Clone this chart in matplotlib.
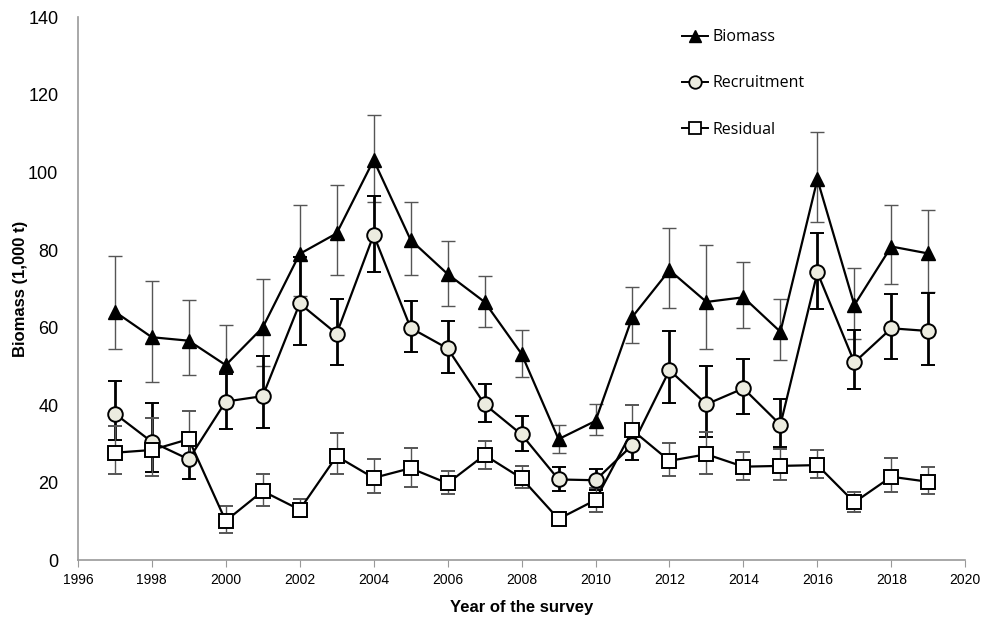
import numpy as np
import matplotlib
matplotlib.use("Agg")
from matplotlib import pyplot as plt
from matplotlib.lines import Line2D

#_____________________________DATA_______________________________________#
years = list(range(1997, 2020))

# Biomass (1,000 t): estimate, lower and upper limit of the error bar
biomass = [64.1, 57.5, 56.6, 50.3, 60.0, 79.0, 84.3, 103.2, 82.6, 73.8, 66.6, 53.2,
           31.2, 35.9, 62.8, 74.8, 66.6, 67.8, 58.9, 98.2, 65.8, 80.9, 79.1]
biomass_lo = [54.4, 46.0, 47.7, 40.0, 50.1, 68.2, 73.6, 92.5, 73.6, 65.6, 60.2, 47.3,
              27.7, 32.3, 55.9, 65.0, 54.5, 59.9, 51.6, 87.3, 57.0, 71.2, 69.1]
biomass_hi = [78.5, 72.1, 67.1, 60.6, 72.4, 91.6, 96.7, 114.8, 92.5, 82.3, 73.4, 59.4,
              34.9, 40.3, 70.4, 85.8, 81.3, 77.0, 67.4, 110.5, 75.3, 91.5, 90.3]

recruit = [37.8, 30.5, 26.0, 40.9, 42.3, 66.2, 58.4, 83.9, 59.9, 54.6, 40.2, 32.4,
           20.8, 20.6, 29.7, 49.0, 40.2, 44.3, 34.9, 74.2, 51.0, 59.8, 59.1]
recruit_lo = [31.0, 22.8, 20.9, 33.7, 34.0, 55.6, 50.3, 74.4, 53.6, 48.3, 35.5, 28.1,
              17.9, 18.2, 25.8, 40.4, 31.8, 37.6, 29.2, 64.8, 44.1, 51.9, 50.3]
recruit_hi = [46.2, 40.5, 32.0, 48.0, 52.6, 78.3, 67.3, 94.0, 66.9, 61.7, 45.4, 37.2,
              24.1, 23.4, 33.0, 59.1, 50.1, 52.0, 41.6, 84.5, 59.4, 68.6, 69.0]

residual = [27.7, 28.4, 31.2, 10.1, 17.8, 13.0, 26.8, 21.2, 23.7, 19.8, 27.1, 21.1,
            10.6, 15.5, 33.5, 25.6, 27.3, 24.1, 24.3, 24.5, 14.9, 21.5, 20.2]
residual_lo = [22.2, 21.7, 25.2, 7.1, 14.0, 11.0, 22.2, 17.4, 18.9, 17.0, 23.5, 18.5,
               9.6, 12.5, 28.5, 21.8, 22.2, 20.6, 20.6, 21.1, 12.3, 17.5, 17.0]
residual_hi = [34.7, 36.6, 38.5, 13.9, 22.1, 15.7, 32.9, 26.0, 29.0, 23.0, 30.8, 24.3,
               11.6, 18.6, 39.9, 30.3, 33.1, 28.0, 28.6, 28.4, 17.6, 26.4, 24.1]

x_ticks = list(range(1996, 2021, 2))
y_ticks = list(range(0, 141, 20))


def yerr(mid, lo, hi):
    mid = np.array(mid)
    return [mid - np.array(lo), np.array(hi) - mid]


#_____________________________PLOT_______________________________________#
plt.rcParams['font.family'] = ['Liberation Sans', 'DejaVu Sans']

fig = plt.figure(figsize=(9.85, 6.23), dpi=100)
ax = fig.add_axes([0.079, 0.101, 0.901, 0.871])

# Biomass: thin grey error bars
ax.errorbar(years, biomass, yerr=yerr(biomass, biomass_lo, biomass_hi),
            color='black', lw=1.6, marker='^', ms=10.5, mfc='black', mec='black',
            ecolor='#555555', elinewidth=1.0, capsize=5, capthick=1.0, zorder=3)

# Recruitment: thick black error bars
ax.errorbar(years, recruit, yerr=yerr(recruit, recruit_lo, recruit_hi),
            color='black', lw=1.6, marker='o', ms=10.5, mfc='#ECECE0', mec='black',
            mew=1.4, ecolor='black', elinewidth=2.0, capsize=5, capthick=2.0, zorder=3)

# Residual
ax.errorbar(years, residual, yerr=yerr(residual, residual_lo, residual_hi),
            color='black', lw=1.6, marker='s', ms=10, mfc='white', mec='black',
            mew=1.4, ecolor='#555555', elinewidth=1.0, capsize=5, capthick=1.0, zorder=3)

ax.set_xlim(1996, 2020)
ax.set_ylim(0, 140)
ax.set_xticks(x_ticks)
ax.set_yticks(y_ticks)
ax.tick_params(axis='x', direction='out', length=5, color='#999999',
               labelsize=10, pad=4)
ax.tick_params(axis='y', length=0, labelsize=13, pad=14)

for side in ['top', 'right']:
    ax.spines[side].set_visible(False)
for side in ['left', 'bottom']:
    ax.spines[side].set_color('#999999')
    ax.spines[side].set_linewidth(1.2)

ax.set_xlabel('Year of the survey', fontsize=12, fontweight='bold', labelpad=10)
ax.set_ylabel('Biomass (1,000 t)', fontsize=12, fontweight='bold', labelpad=0)

# legend handles without the error bars
handles = [
    Line2D([], [], color='black', lw=1.4, marker='^', ms=9, mfc='black', mec='black'),
    Line2D([], [], color='black', lw=1.4, marker='o', ms=9, mfc='#ECECE0', mec='black', mew=1.3),
    Line2D([], [], color='black', lw=1.4, marker='s', ms=9, mfc='white', mec='black', mew=1.3),
]
ax.legend(handles, ['Biomass', 'Recruitment', 'Residual'],
          loc='upper left', bbox_to_anchor=(0.665, 1.005), frameon=False,
          labelspacing=1.9, handlelength=1.6, handletextpad=0.3,
          prop={'family': ['Open Sans', 'DejaVu Sans'], 'size': 11.5})

fig.savefig('out.png', dpi=100)
